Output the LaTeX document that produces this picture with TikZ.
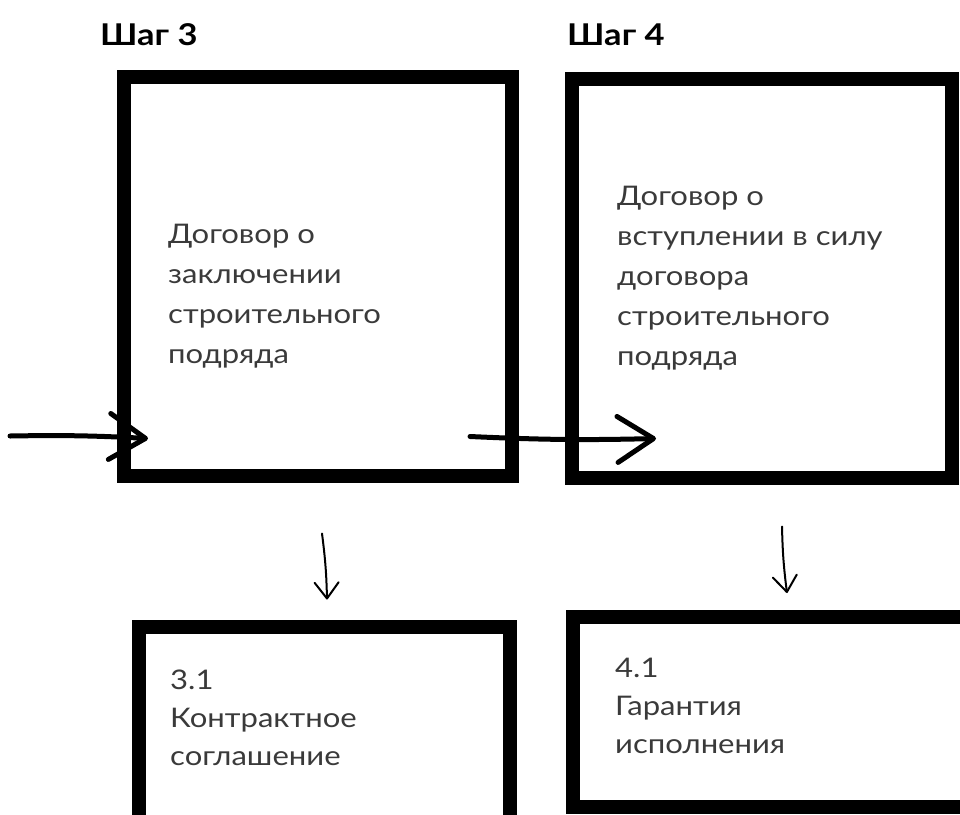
\documentclass[tikz,border=0pt]{standalone}
\usepackage{fontspec}
\setmainfont{Lato}[FakeStretch=1.15]
\usetikzlibrary{positioning, calc, arrows.meta}
\definecolor{inkgray}{HTML}{3A3A3A}

\begin{document}
\begin{tikzpicture}[x=1pt, y=-1pt,
    stepbox/.style={draw, rectangle, line width=14pt, inner sep=0pt},
    steptitle/.style={font=\fontsize{30}{32}\selectfont\bfseries, anchor=base west, inner sep=0pt},
    boxtext/.style={font=\fontsize{27}{40}\selectfont, text=inkgray, align=left, anchor=north west, inner sep=0pt},
    subtext/.style={boxtext, font=\fontsize{27}{38}\selectfont},
    bigarrow/.style={line width=5pt, line cap=round, -{Straight Barb[length=36pt, width=46pt, line width=5pt, round]}},
    thinarrow/.style={line width=2pt, line cap=round, -{Straight Barb[length=16pt, width=24pt, round]}}]
    \clip (0,0) rectangle (960,814);
    % steps
    \node[steptitle] (h3) at (100,45) {Шаг 3};
    \node[steptitle] (h4) at (567,45) {Шаг 4};
    \node[stepbox, minimum width=388pt, minimum height=399pt] (s3) at (318,276) {};
    \node[stepbox, minimum width=380pt, minimum height=399pt] (s4) at (762,278) {};
    \node[boxtext] (t3) at (168,224) {Договор о\\заключении\\строительного\\подряда};
    \node[boxtext] (t4) at (617,186) {Договор о\\вступлении в силу\\договора\\строительного\\подряда};
    % sub-steps
    \node[stepbox, minimum width=371pt, minimum height=253pt] (s31) at (324,753) {};
    \node[stepbox, minimum width=437pt, minimum height=190pt] (s41) at (791,712) {};
    \node[subtext] (t31) at (170,670) {3.1\\Контрактное\\соглашение};
    \node[subtext] (t41) at (615,658) {4.1\\Гарантия\\исполнения};
    % arrows
    \coordinate (in3) at (10,436);
    \draw[bigarrow] (in3) to[bend left=2] ($(s3.south west)+(31,-44)$);
    \draw[bigarrow] ($(s3.south east)+(-49,-46)$) to[bend right=2] ($(s4.south west)+(91,-46)$);
    \draw[thinarrow] ($(s3.south)+(4,51)$) to[bend left=3] ($(s31.north)+(3,-20)$);
    \draw[thinarrow] ($(s4.south)+(20,42)$) to[bend right=3] ($(s41.north)+(-4,-17)$);
\end{tikzpicture}
\end{document}
